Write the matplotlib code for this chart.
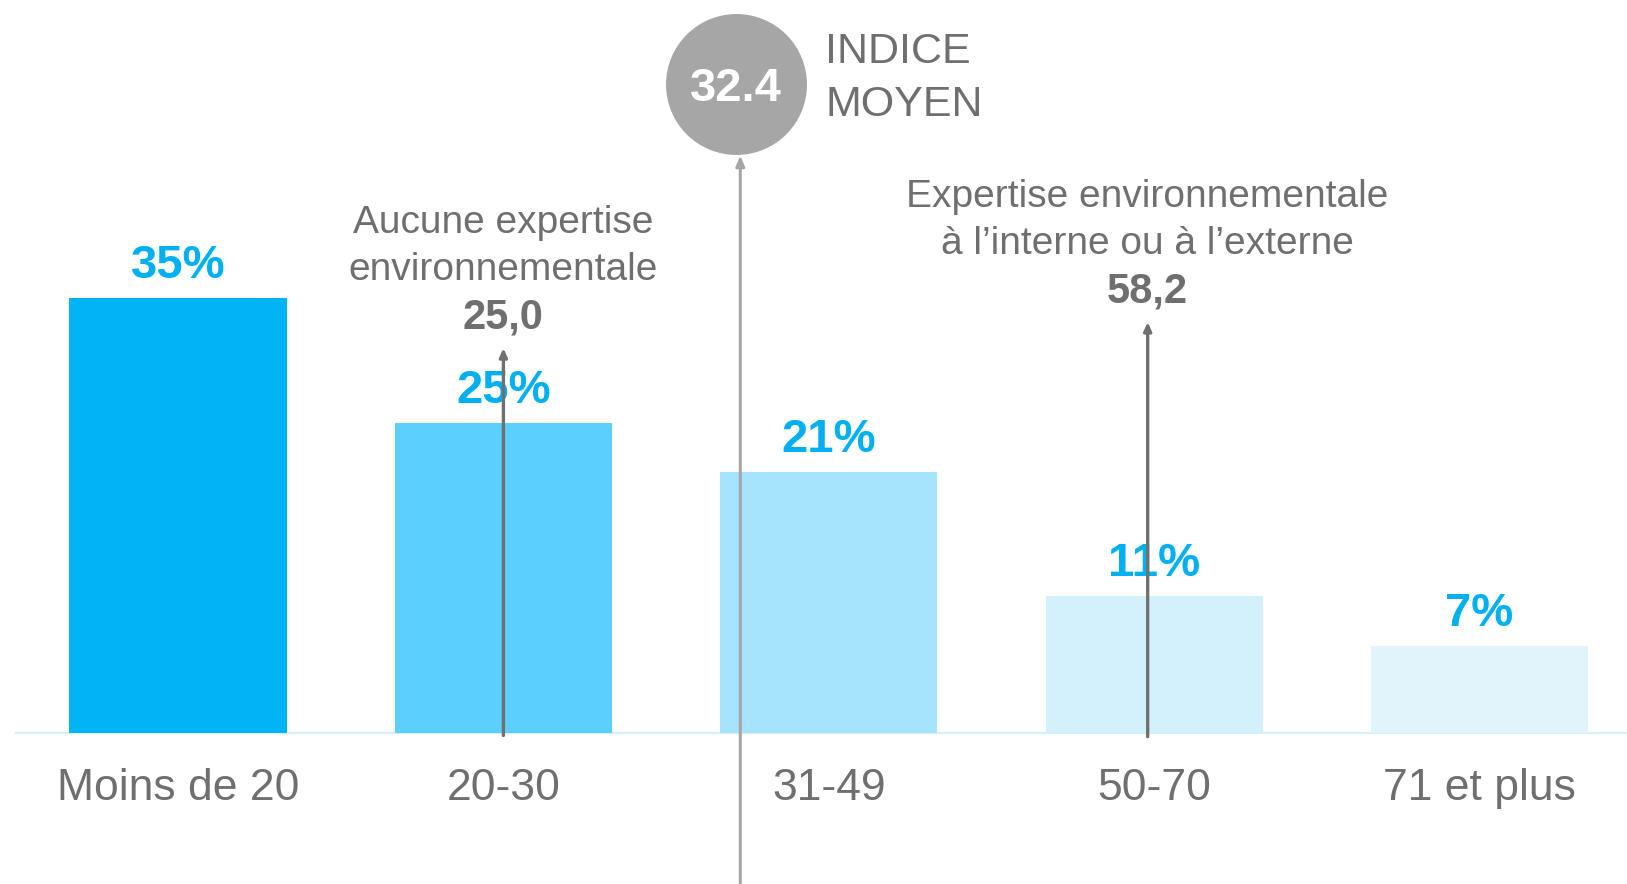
import matplotlib
matplotlib.use("Agg")
import matplotlib.pyplot as plt

plt.rcParams['font.family'] = ['Liberation Sans', 'DejaVu Sans']

# ---- data ----
categories = ["Moins de 20", "20-30", "31-49", "50-70", "71 et plus"]
shares = [35, 25, 21, 11, 7]
share_labels = ["35%", "25%", "21%", "11%", "7%"]
mean_index = "32.4"
group_low_label = "Aucune expertise\nenvironnementale"
group_low_value = "25,0"
group_high_label = "Expertise environnementale\nà l’interne ou à l’externe"
group_high_value = "58,2"

# ---- styles ----
bar_colors = ["#00B4F6", "#5BCFFD", "#A6E4FD", "#D3F1FD", "#E1F4FC"]
blue_txt = "#00B0F0"
gray_txt = "#6F6F6F"
dark_arrow = "#707070"
mean_gray = "#A6A6A6"

W, H = 1627, 884
fig = plt.figure(figsize=(W / 100, H / 100), dpi=100)
ax = fig.add_axes([0, 0, 1, 1])
ax.set_xlim(-0.547, 4.453)
ax.set_ylim(-12.16, 59.02)
ax.axis("off")

x = list(range(len(categories)))
ax.bar(x, shares, width=0.667, color=bar_colors, zorder=2)

# baseline
ax.axhline(0, xmin=16 / W, xmax=1, color="#D6F0FB", lw=1.6, zorder=1)

# percent labels
for xi, v, lab in zip(x, shares, share_labels):
    ax.annotate(lab, xy=(xi, v), xytext=(0, 20), textcoords="offset pixels",
                ha="center", va="baseline", fontsize=34, fontweight="bold",
                color=blue_txt, zorder=3)

# category labels
for xi, lab in zip(x, categories):
    ax.annotate(lab, xy=(xi, 0), xytext=(0, -67), textcoords="offset pixels",
                ha="center", va="baseline", fontsize=32, color=gray_txt)

# mean line with circle
mean_x = 1.728
circle_y = 52.25
ax.annotate("", xy=(mean_x, 46.5), xytext=(mean_x, -12.5),
            arrowprops=dict(arrowstyle="-|>,head_length=0.6,head_width=0.25",
                            color=mean_gray, lw=2.2, shrinkA=0, shrinkB=0),
            annotation_clip=False, zorder=4)
ax.scatter([mean_x - 0.012], [circle_y], s=10300, color=mean_gray, zorder=5,
           linewidths=0)
ax.text(mean_x - 0.012, circle_y, mean_index, ha="center", va="center_baseline",
        fontsize=34, fontweight="bold", color="white", zorder=6)
ax.annotate("INDICE\nMOYEN", xy=(mean_x, circle_y), xytext=(85, 6),
            textcoords="offset pixels", ha="left", va="center",
            fontsize=31, color=gray_txt, linespacing=1.42)

# group arrows
low_x = 1.0
high_x = 2.98
ax.annotate("", xy=(low_x, 31.0), xytext=(low_x, -0.2),
            arrowprops=dict(arrowstyle="-|>,head_length=0.5,head_width=0.22",
                            color=dark_arrow, lw=2.4, shrinkA=0, shrinkB=0),
            zorder=4)
ax.annotate("", xy=(high_x, 33.1), xytext=(high_x, -0.3),
            arrowprops=dict(arrowstyle="-|>,head_length=0.5,head_width=0.22",
                            color=dark_arrow, lw=2.4, shrinkA=0, shrinkB=0),
            zorder=4)

# group labels
ax.text(low_x, 32.6, group_low_value, ha="center", va="baseline", fontsize=30,
        fontweight="bold", color=gray_txt)
ax.text(low_x, 36.5, group_low_label, ha="center", va="baseline", fontsize=28,
        color=gray_txt, linespacing=1.38)
ax.text(high_x, 34.7, group_high_value, ha="center", va="baseline", fontsize=30,
        fontweight="bold", color=gray_txt)
ax.text(high_x, 38.6, group_high_label, ha="center", va="baseline", fontsize=28,
        color=gray_txt, linespacing=1.38)

fig.savefig("out.png", dpi=100, facecolor="white")
